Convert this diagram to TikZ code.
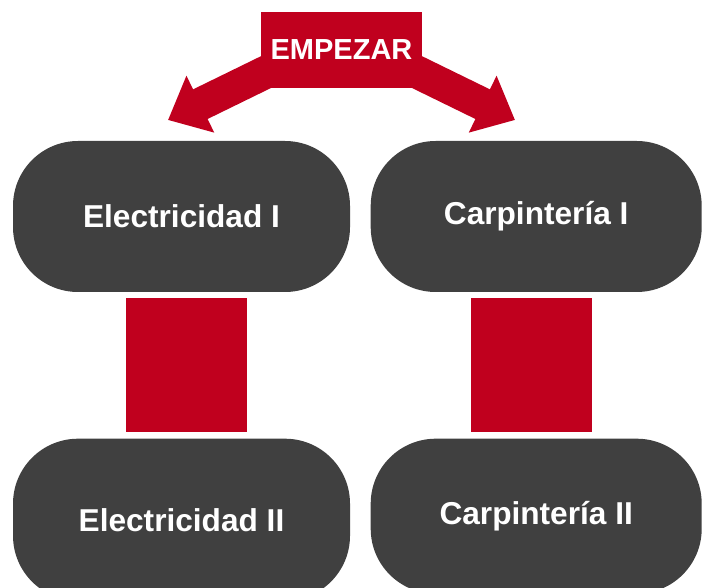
\documentclass[tikz,border=0pt]{standalone}
\usepackage{fontspec}
\setmainfont{Liberation Sans}
\usetikzlibrary{positioning}
\usetikzlibrary{arrows.meta}
\usetikzlibrary{backgrounds}
\definecolor{rojo}{HTML}{C0001E}
\definecolor{gris}{HTML}{404040}

\begin{document}
\begin{tikzpicture}[
	curso/.style={rectangle, rounded corners=1.3cm, fill=gris, text=white, inner sep=0pt,
		font=\fontsize{18}{21}\selectfont\bfseries, minimum height=3.02cm},
	barra/.style={draw=rojo, line width=2.42cm, shorten >=0.12cm, shorten <=0.12cm},
	flecha/.style={draw=rojo, line width=0.66cm, -{Triangle[length=0.72cm,width=1.22cm]}}
	]
	\useasboundingbox (0,0) rectangle (14.04,-11.76);
	%% cursos
	\node[curso, minimum width=6.74cm] (e1) at (3.63,-4.33) {Electricidad I};
	\node[curso, minimum width=6.62cm, right = 0.4 of e1] (c1) {Carpintería I};
	\node[curso, minimum width=6.74cm, minimum height=3.24cm, below = 2.92 of e1] (e2) {Electricidad II};
	\node[curso, minimum width=6.62cm, minimum height=3.1cm, below = 2.92 of c1] (c2) {Carpintería II};
	%% barras
	\draw[barra] ([xshift=0.1cm]e1.south) -- ([xshift=0.1cm]e2.north);
	\draw[barra] ([xshift=-0.1cm]c1.south) -- ([xshift=-0.1cm]c2.north);
	%% inicio
	\node[fill=rojo, text=white, font=\fontsize{16.5}{19}\selectfont\bfseries,
		minimum width=3.22cm, minimum height=1.52cm] (inicio) at (6.83,-1.0) {EMPEZAR};
	\coordinate (puntaI) at (3.36,-2.40);
	\coordinate (puntaD) at (10.30,-2.40);
	\begin{scope}[on background layer]
		\draw[flecha] ([xshift=-0.77cm,yshift=-0.08cm]inicio.center) -- (puntaI);
		\draw[flecha] ([xshift=0.77cm,yshift=-0.08cm]inicio.center) -- (puntaD);
	\end{scope}
\end{tikzpicture}
\end{document}
